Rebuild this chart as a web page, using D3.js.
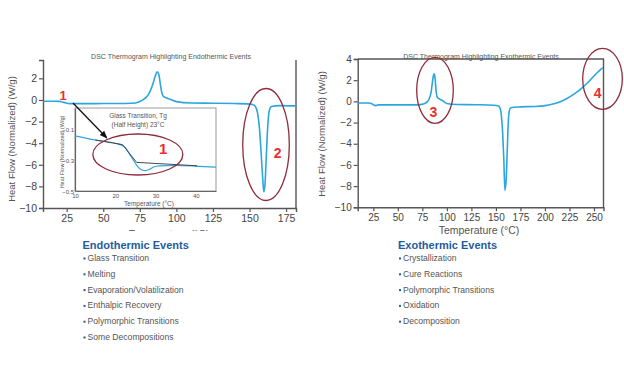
<!DOCTYPE html>
<html>
<head>
<meta charset="utf-8">
<script src="https://cdn.jsdelivr.net/npm/d3@7"></script>
<style>
  body { margin: 0; background: #fff; }
  svg { font-family: "Liberation Sans", Arial, sans-serif; }
</style>
</head>
<body>
<svg id="chart" width="624" height="368"></svg>
<script>
// Courbe de gauche (endotherme)
const endoTemp = [9, 16, 20, 22, 24, 26, 28, 35, 50, 65, 72, 75, 78, 80, 82, 84, 85.5, 86.8, 88, 89, 90, 91, 93, 96, 100, 110, 125, 140, 148, 152, 154, 155.5, 156.8, 158, 159, 159.8, 160.6, 161.5, 162.5, 163.5, 165, 170, 182];
const endoFlow = [-0.12, -0.12, -0.13, -0.18, -0.26, -0.32, -0.34, -0.34, -0.33, -0.32, -0.28, -0.15, 0.1, 0.35, 0.8, 1.5, 2.2, 2.6, 2.35, 1.5, 0.7, 0.35, 0.2, 0.05, -0.15, -0.28, -0.3, -0.33, -0.36, -0.42, -0.6, -1.2, -2.6, -5.0, -7.2, -8.5, -7.8, -5.2, -2.4, -1.0, -0.6, -0.52, -0.55];

// Courbe de droite (exotherme)
const exoTemp = [9, 20, 23, 25.5, 27.5, 30, 40, 55, 70, 76, 80, 82, 84, 85, 86, 87, 88, 89, 90, 92, 95, 100, 110, 130, 148, 152, 154, 155.5, 156.8, 158, 159.2, 160.4, 161.5, 162.5, 163.5, 165, 175, 190, 200, 207, 215, 222, 230, 237, 244, 250, 255, 259];
const exoFlow = [-0.15, -0.15, -0.2, -0.35, -0.4, -0.33, -0.33, -0.33, -0.33, -0.25, -0.05, 0.25, 0.9, 1.6, 2.3, 2.6, 2.2, 1.0, 0.45, 0.25, 0.1, -0.2, -0.3, -0.32, -0.36, -0.42, -0.6, -1.3, -2.8, -5.3, -8.4, -7.5, -4.8, -2.2, -1.0, -0.6, -0.52, -0.48, -0.4, -0.28, -0.05, 0.25, 0.7, 1.2, 1.8, 2.4, 2.85, 3.2];

// Zoom sur la transition vitreuse
const insetTemp = [10, 15, 21, 22.5, 23.5, 24.5, 25.5, 26.5, 27.5, 28.5, 29.5, 31, 35, 40, 45];
const insetFlow = [-0.143, -0.17, -0.198, -0.22, -0.26, -0.3, -0.34, -0.362, -0.368, -0.36, -0.345, -0.337, -0.335, -0.339, -0.346];
const tangentTemp = [15, 21.8, 25.3, 40.3];
const tangentFlow = [-0.17, -0.2, -0.315, -0.337];

const endoXTicks = [25, 50, 75, 100, 125, 150, 175];
const endoYTicks = [-10, -8, -6, -4, -2, 0, 2];
const exoXTicks = [25, 50, 75, 100, 125, 150, 175, 200, 225, 250];
const exoYTicks = [-10, -8, -6, -4, -2, 0, 2, 4];
const insetXTicks = [10, 20, 30, 40];
const insetYTicks = [-0.1, -0.3, -0.5];

const endoEvents = ["Glass Transition", "Melting", "Evaporation/Volatilization", "Enthalpic Recovery", "Polymorphic Transitions", "Some Decompositions"];
const exoEvents = ["Crystallization", "Cure Reactions", "Polymorphic Transitions", "Oxidation", "Decomposition"];

const blue = "#2ba6de";
const axisGrey = "#555";
const ringRed = "#8e2c3b";
const numRed = "#e8312e";

const svg = d3.select("#chart");

svg.append("defs").append("marker")
    .attr("id", "arrow")
    .attr("viewBox", "0 0 10 10")
    .attr("refX", 9).attr("refY", 5)
    .attr("markerWidth", 6).attr("markerHeight", 6)
    .attr("orient", "auto")
    .append("path").attr("d", "M0,1 L10,5 L0,9 Z").attr("fill", "#111");

svg.select("defs").append("clipPath").attr("id", "cutTitle")
    .append("rect").attr("x", 0).attr("y", 0).attr("width", 312).attr("height", 231);

// axes d'un graphique principal
function drawAxes(g, x, y, xTicks, yTicks, fontSize) {
    const xa = g.append("g")
        .attr("transform", `translate(0, ${y.range()[0]})`)
        .call(d3.axisBottom(x).tickValues(xTicks).tickSizeOuter(0).tickSize(4).tickPadding(3));
    const ya = g.append("g")
        .attr("transform", `translate(${x.range()[0]}, 0)`)
        .call(d3.axisLeft(y).tickValues(yTicks).tickSizeOuter(0).tickSize(4).tickPadding(2));
    [xa, ya].forEach(a => {
        a.select(".domain").attr("stroke", axisGrey).attr("stroke-width", 1.4);
        a.selectAll(".tick line").attr("stroke", axisGrey).attr("stroke-width", 1.2);
        a.selectAll(".tick text").attr("fill", "#444").style("font-size", fontSize + "px")
            .style("font-family", "'Liberation Sans', Arial, sans-serif");
    });
}

function drawCurve(g, x, y, temps, flows, width) {
    const line = d3.line()
        .curve(d3.curveMonotoneX)
        .x((d, i) => x(temps[i]))
        .y(d => y(d));
    g.append("path")
        .datum(flows)
        .attr("fill", "none")
        .attr("stroke", blue)
        .attr("stroke-width", width)
        .attr("d", line);
}

function ring(g, cx, cy, rx, ry) {
    g.append("ellipse")
        .attr("cx", cx).attr("cy", cy).attr("rx", rx).attr("ry", ry)
        .attr("fill", "none").attr("stroke", ringRed).attr("stroke-width", 1.3);
}

function number(g, cx, cy, label, size) {
    g.append("text")
        .attr("x", cx).attr("y", cy)
        .attr("text-anchor", "middle").attr("dominant-baseline", "central")
        .attr("fill", numRed).style("font-weight", "bold").style("font-size", size + "px")
        .text(label);
}

function yTitle(g, cx, cy) {
    g.append("text")
        .attr("transform", `translate(${cx}, ${cy}) rotate(-90)`)
        .attr("text-anchor", "middle")
        .attr("fill", "#555").style("font-size", "9.5px")
        .text("Heat Flow (Normalized) (W/g)");
}

// ---- graphique de gauche ----
const xL = d3.scaleLinear().domain([8.8, 181.8]).range([43, 296]);
const yL = d3.scaleLinear().domain([-10, 3.7]).range([208, 60]);
const left = svg.append("g");

drawAxes(left, xL, yL, endoXTicks, endoYTicks, 10.5);
left.append("line")
    .attr("x1", xL.range()[1]).attr("x2", xL.range()[1])
    .attr("y1", yL.range()[1]).attr("y2", yL.range()[0])
    .attr("stroke", axisGrey).attr("stroke-width", 1.4);
drawCurve(left, xL, yL, endoTemp, endoFlow, 1.6);

left.append("text")
    .attr("x", 171).attr("y", 59)
    .attr("text-anchor", "middle").attr("fill", "#555").style("font-size", "7px")
    .text("DSC Thermogram Highlighting Endothermic Events");
yTitle(left, 15, 139);
left.append("text")
    .attr("clip-path", "url(#cutTitle)")
    .attr("x", 169).attr("y", 238)
    .attr("text-anchor", "middle").attr("fill", "#555").style("font-size", "10.5px")
    .text("Temperature (°C)");

// ---- encart ----
const xI = d3.scaleLinear().domain([10, 45]).range([75, 216]);
const yI = d3.scaleLinear().domain([-0.5, 0.037]).range([191, 108]);
const inset = svg.append("g");

inset.append("rect")
    .attr("x", xI.range()[0]).attr("y", yI.range()[1])
    .attr("width", xI.range()[1] - xI.range()[0]).attr("height", yI.range()[0] - yI.range()[1])
    .attr("fill", "#fff").attr("stroke", "#999").attr("stroke-width", 1);

const ixa = inset.append("g")
    .attr("transform", `translate(0, ${yI.range()[0]})`)
    .call(d3.axisBottom(xI).tickValues(insetXTicks).tickSize(0).tickPadding(3).tickSizeOuter(0));
const iya = inset.append("g")
    .attr("transform", `translate(${xI.range()[0]}, 0)`)
    .call(d3.axisLeft(yI).tickValues(insetYTicks).tickSize(0).tickPadding(1).tickSizeOuter(0).tickFormat(d3.format(".1f")));
[ixa, iya].forEach(a => {
    a.select(".domain").attr("stroke", "#666").attr("stroke-width", 1.2);
    a.selectAll(".tick text").attr("fill", "#555").style("font-size", "6px")
        .style("font-family", "'Liberation Sans', Arial, sans-serif");
});
iya.selectAll(".tick text").attr("dy", "0.35em");

inset.append("text")
    .attr("x", 149).attr("y", 205.5)
    .attr("text-anchor", "middle").attr("fill", "#555").style("font-size", "6.5px")
    .text("Temperature (°C)");
inset.append("text")
    .attr("transform", "translate(64, 152) rotate(-90)")
    .attr("text-anchor", "middle").attr("fill", "#555").style("font-size", "5.5px")
    .text("Heat Flow (Normalized) (W/g)");
inset.append("text")
    .attr("x", 138).attr("y", 118)
    .attr("text-anchor", "middle").attr("fill", "#555").style("font-size", "6.5px")
    .text("Glass Transition, Tg");
inset.append("text")
    .attr("x", 138).attr("y", 126.5)
    .attr("text-anchor", "middle").attr("fill", "#555").style("font-size", "6.5px")
    .text("(Half Height) 23°C");

drawCurve(inset, xI, yI, insetTemp, insetFlow, 1.2);
inset.append("path")
    .datum(tangentFlow)
    .attr("fill", "none").attr("stroke", "#333").attr("stroke-width", 0.9)
    .attr("d", d3.line().x((d, i) => xI(tangentTemp[i])).y(d => yI(d)));

ring(inset, xI(25.6), yI(-0.264), 45, 20.5);
number(inset, xI(31.9), yI(-0.224), "1", 15);

// flèche vers l'encart
svg.append("line")
    .attr("x1", xL(29.3)).attr("y1", yL(-0.28))
    .attr("x2", xI(17.9)).attr("y2", yI(-0.157))
    .attr("stroke", "#111").attr("stroke-width", 1.3)
    .attr("marker-end", "url(#arrow)");
number(left, xL(22.5), yL(0.45), "1", 13);

ring(left, xL(161.3), yL(-4.12), 23.3, 56);
number(left, xL(169.3), yL(-4.94), "2", 14);

// ---- graphique de droite ----
const xR = d3.scaleLinear().domain([9.1, 259.7]).range([357.7, 603.5]);
const yR = d3.scaleLinear().domain([-10, 4]).range([207.3, 59]);
const right = svg.append("g");

drawAxes(right, xR, yR, exoXTicks, exoYTicks, 10);
right.append("path")
    .attr("d", `M${xR.range()[0]},${yR.range()[1]} H${xR.range()[1]} V${yR.range()[0]}`)
    .attr("fill", "none").attr("stroke", axisGrey).attr("stroke-width", 1.4);
drawCurve(right, xR, yR, exoTemp, exoFlow, 1.6);

right.append("text")
    .attr("x", 481).attr("y", 59)
    .attr("text-anchor", "middle").attr("fill", "#555").style("font-size", "7px")
    .text("DSC Thermogram Highlighting Exothermic Events");
yTitle(right, 325, 134);
right.append("text")
    .attr("x", 479).attr("y", 234)
    .attr("text-anchor", "middle").attr("fill", "#555").style("font-size", "10.5px")
    .text("Temperature (°C)");

ring(right, xR(87.9), yR(1.04), 18.3, 33);
number(right, xR(86.4), yR(-0.98), "3", 14);
ring(right, xR(258.7), yR(2.13), 19.8, 30.5);
number(right, xR(253.8), yR(0.76), "4", 14);

// ---- listes ----
function eventList(x, title, items) {
    const g = svg.append("g");
    g.append("text")
        .attr("x", x).attr("y", 248.5)
        .attr("fill", "#1f5c9e").style("font-weight", "bold").style("font-size", "11px")
        .text(title);
    items.forEach((item, i) => {
        const yy = 261 + i * 15.8;
        g.append("rect")
            .attr("x", x + 1).attr("y", yy - 3.5).attr("width", 2).attr("height", 2)
            .attr("fill", "#1f5c9e");
        g.append("text")
            .attr("x", x + 5).attr("y", yy)
            .attr("fill", "#555").style("font-size", "8.6px")
            .text(item);
    });
}
eventList(82.5, "Endothermic Events", endoEvents);
eventList(398, "Exothermic Events", exoEvents);
</script>
</body>
</html>
